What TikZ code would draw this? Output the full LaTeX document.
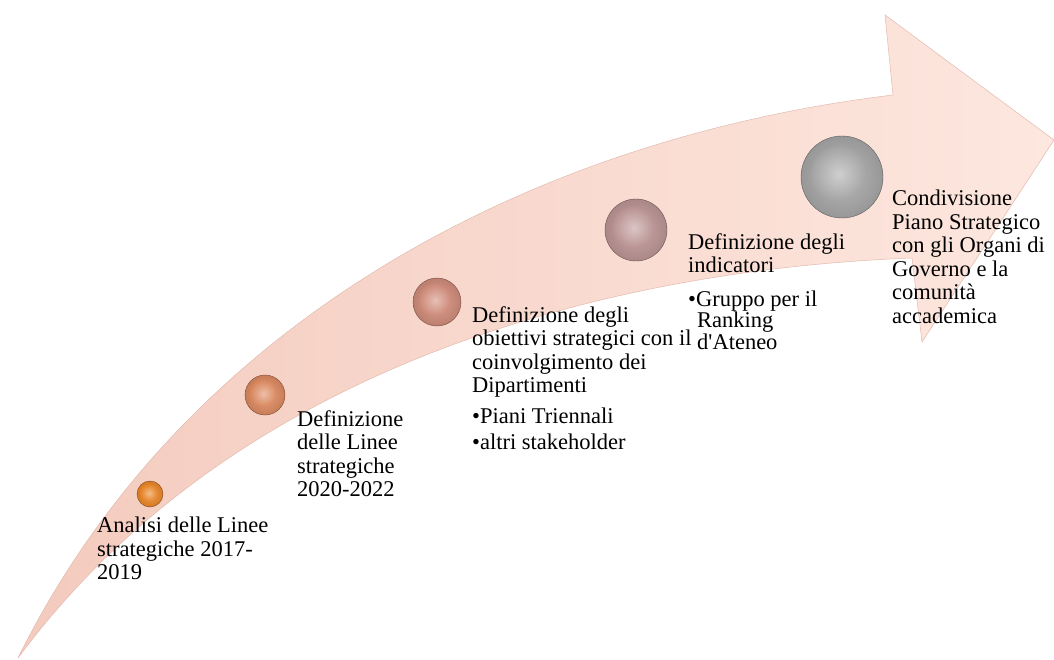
\documentclass[tikz,border=0pt]{standalone}
\usepackage{fontspec}
\setmainfont{Liberation Serif}
\definecolor{arrowL}{RGB}{244,203,190}
\definecolor{arrowR}{RGB}{253,231,223}
\definecolor{arrowEdge}{RGB}{228,186,174}
\definecolor{knobA}{RGB}{236,134,38}
\definecolor{knobB}{RGB}{222,138,96}
\definecolor{knobC}{RGB}{210,140,122}
\definecolor{knobD}{RGB}{190,150,150}
\definecolor{knobE}{RGB}{168,168,168}
\tikzset{
  knob/.style={circle, inner sep=0pt, draw=#1!55!black, line width=0.4pt,
    shading=radial, inner color=#1!80!white, outer color=#1!90!black},
  stage/.style={anchor=north west, inner sep=0pt, align=left,
    font=\fontsize{22.5}{23.5}\selectfont},
}
\begin{document}
\begin{tikzpicture}[x=1pt,y=-1pt]
\useasboundingbox (0,0) rectangle (1054,660);
\fill[white] (0,0) rectangle (1054,660);
% curved arrow
\shadedraw[left color=arrowL, right color=arrowR, draw=arrowEdge, line width=0.5pt]
  (18,658) .. controls (180,330) and (520,140) .. (893,95)
  -- (885,15) -- (1054,140) -- (922,342) -- (912,258)
  .. controls (650,268) and (250,345) .. (18,658) -- cycle;
% buttons
\foreach \n/\x/\y/\r/\col in {1/150/494/13/knobA, 2/265/395/20/knobB,
    3/437/302/24/knobC, 4/636/230/31/knobD, 5/842/177/41/knobE}
{   \node[knob=\col, minimum size={2*\r*1pt}] (b\n) at (\x,\y) {};
    \shade[inner color=\col!55!white, outer color=\col!97!black]
      ([shift={(-0.07*\r,-0.07*\r)}]b\n.center) circle ({0.68*\r});
}
% stages
\node[stage] (t1) at (97,517) {Analisi delle Linee\\strategiche 2017-\\2019};
\node[stage] (t2) at (297,410) {Definizione\\delle Linee\\strategiche\\2020-2022};
\node[stage] (t3) at (472,306) {Definizione degli\\obiettivi strategici con il\\coinvolgimento dei\\Dipartimenti\\[7pt]%
  \textbullet Piani Triennali\\[3pt]\textbullet altri stakeholder};
\node[stage] (t4) at (688,233) {Definizione degli\\indicatori\\[10pt]%
  \textbullet Gruppo per il\\[-2pt]\hspace*{9pt}Ranking\\[-2pt]\hspace*{9pt}d\textquotesingle Ateneo};
\node[stage] (t5) at (892,190) {Condivisione\\Piano Strategico\\con gli Organi di\\Governo e la\\comunità\\accademica};
\end{tikzpicture}
\end{document}
